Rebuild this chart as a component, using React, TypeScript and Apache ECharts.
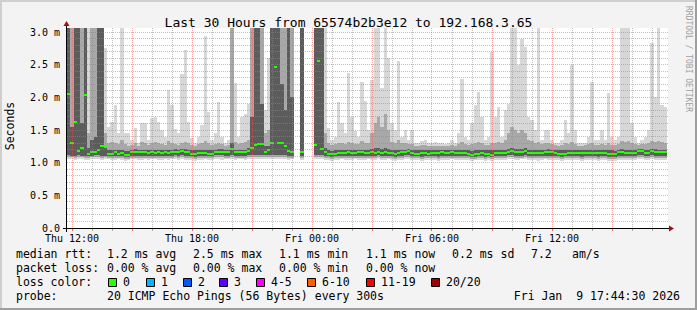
import React, { useEffect, useRef } from 'react';
import * as echarts from 'echarts';

const TITLE = 'Last 30 Hours from 65574b2b3e12 to 192.168.3.65';
const Y_AXIS_NAME = 'Seconds';
const WATERMARK = 'RRDTOOL / TOBI OETIKER';
const Y_TICK_LABELS = ['0.0', '0.5 m', '1.0 m', '1.5 m', '2.0 m', '2.5 m', '3.0 m'];
const X_TICK_LABELS = ['Thu 12:00', 'Thu 18:00', 'Fri 00:00', 'Fri 06:00', 'Fri 12:00'];

// 5-minute category slots, Thu 11:45 .. Fri 17:45
const CATEGORIES: string[] = [];
for (let i = 0; i <= 360; i++) {
  const t = 11 * 60 + 45 + 5 * i;
  const day = t >= 24 * 60 ? 'Fri' : 'Thu';
  const m = t % (24 * 60);
  CATEGORIES.push(`${day} ${String(Math.floor(m / 60)).padStart(2, '0')}:${String(m % 60).padStart(2, '0')}`);
}

// one value per 10-minute bin (180 bins), in ms; null = no data
const median = [
  2.05, 1.30, 1.63, 1.18, 1.23, 2.04, 1.14, 1.16, 1.17, 1.20,
  1.26, 1.24, 1.14, 1.14, 1.16, 1.14, 1.15, 1.12, 1.12, 1.16,
  1.17, 1.17, 1.16, 1.16, 1.15, 1.16, 1.15, 1.16, 1.15, 1.16,
  1.15, 1.16, 1.17, 1.16, 1.18, 1.17, 1.16, 1.14, 1.14, 1.15,
  1.15, 1.15, 1.14, 1.14, 1.17, 1.17, 1.17, 1.17, 1.16, 1.21,
  1.16, 1.16, 1.16, 1.16, 1.18, 1.23, 1.27, 1.28, 1.28, 1.17,
  1.19, 1.30, 2.46, 1.30, 1.30, 1.26, 1.18, 1.17, null, null,
  1.16, null, null, null, 1.27, 2.55, 1.21, 1.16, 1.14, 1.13,
  1.14, 1.15, 1.15, 1.15, 1.16, 1.15, 1.15, 1.16, 1.16, 1.15,
  1.15, 1.16, 1.15, 1.16, 1.15, 1.16, 1.15, 1.15, 1.14, 1.15,
  1.16, 1.17, 1.18, 1.15, 1.14, 1.14, 1.15, 1.15, 1.14, 1.15,
  1.15, 1.15, 1.16, 1.15, 1.15, 1.16, 1.15, 1.15, 1.15, 1.15,
  1.14, 1.11, 1.14, 1.14, 1.15, 1.14, 1.14, 1.12, 1.15, 1.15,
  1.15, 1.15, 1.16, 1.18, 1.16, 1.16, 1.16, 1.18, 1.15, 1.15,
  1.15, 1.15, 1.15, 1.16, 1.16, 1.16, 1.15, 1.14, 1.14, 1.14,
  1.15, 1.15, 1.15, 1.15, 1.15, 1.15, 1.15, 1.15, 1.15, 1.15,
  1.15, 1.15, 1.14, 1.13, 1.13, 1.16, 1.16, 1.15, 1.15, 1.15,
  1.15, 1.18, 1.18, 1.15, 1.15, 1.18, 1.17, 1.16, 1.16, 1.16,
];

const pingMax = [
  3.06, 3.06, 3.06, 3.06, 3.06, 3.06, 3.06, 3.06, 3.06, 3.06,
  3.06, 2.75, 1.55, 1.62, 1.88, 1.45, 3.06, 1.45, 1.45, 1.35,
  1.53, 1.30, 1.60, 1.60, 1.35, 1.68, 1.70, 1.63, 1.50, 1.39,
  2.11, 1.88, 1.51, 1.45, 2.35, 2.72, 1.62, 1.38, 1.30, 1.40,
  1.58, 2.94, 1.78, 1.35, 1.45, 1.93, 1.40, 1.30, 1.35, 3.06,
  2.22, 1.40, 1.70, 1.75, 1.90, 3.06, 3.06, 3.06, 3.06, 1.80,
  2.60, 3.06, 3.06, 3.06, 3.06, 3.06, 3.06, 3.06, null, null,
  3.06, null, null, null, 3.06, 3.06, 3.06, 3.06, 1.53, 1.35,
  1.40, 1.93, 1.60, 1.45, 2.37, 1.70, 1.48, 1.40, 2.23, 1.95,
  1.50, 2.27, 3.06, 3.06, 2.14, 3.06, 2.60, 1.60, 1.50, 2.56,
  1.40, 1.50, 1.35, 1.50, 1.30, 1.30, 1.33, 1.35, 1.30, 1.30,
  1.32, 1.30, 1.30, 1.28, 1.30, 1.35, 1.30, 1.45, 2.28, 1.40,
  1.35, 1.60, 1.88, 2.08, 1.70, 1.35, 1.40, 2.70, 1.70, 1.85,
  1.40, 1.80, 1.90, 3.06, 3.06, 2.50, 2.90, 2.77, 1.70, 1.65,
  1.50, 3.06, 1.35, 1.50, 1.50, 1.35, 1.30, 1.30, 1.35, 1.65,
  1.45, 2.50, 1.50, 1.30, 1.30, 1.30, 1.40, 2.23, 1.35, 1.35,
  1.50, 1.35, 2.06, 1.40, 1.35, 1.40, 3.06, 3.06, 3.06, 1.60,
  1.40, 1.30, 1.35, 1.40, 1.50, 2.83, 2.00, 3.06, 1.88, 1.85,
];

const pingMin = [
  1.05, 1.05, 1.04, 1.05, 1.05, 1.04, 1.04, 1.05, 1.05, 1.05,
  1.04, 1.05, 1.05, 1.04, 1.04, 1.05, 1.04, 1.03, 1.04, 1.05,
  1.05, 1.04, 1.04, 1.05, 1.04, 1.05, 1.05, 1.04, 1.04, 1.05,
  1.04, 1.05, 1.05, 1.04, 1.05, 1.04, 1.04, 1.04, 1.03, 1.04,
  1.04, 1.05, 1.04, 1.04, 1.05, 1.05, 1.04, 1.05, 1.05, 1.05,
  1.04, 1.05, 1.05, 1.04, 1.05, 1.06, 1.06, 1.06, 1.05, 1.05,
  1.05, 1.06, 1.06, 1.06, 1.05, 1.05, 1.04, 1.05, null, null,
  1.04, null, null, null, 1.05, 1.06, 1.05, 1.04, 1.04, 1.03,
  1.04, 1.04, 1.05, 1.04, 1.04, 1.04, 1.05, 1.04, 1.04, 1.04,
  1.05, 1.04, 1.04, 1.05, 1.04, 1.04, 1.05, 1.04, 1.03, 1.04,
  1.04, 1.05, 1.05, 1.04, 1.04, 1.04, 1.03, 1.04, 1.04, 1.04,
  1.04, 1.03, 1.04, 1.04, 1.04, 1.05, 1.04, 1.04, 1.04, 1.04,
  1.04, 1.02, 1.04, 1.04, 1.04, 1.03, 1.04, 1.03, 1.04, 1.04,
  1.04, 1.04, 1.05, 1.05, 1.04, 1.04, 1.05, 1.05, 1.04, 1.04,
  1.04, 1.03, 1.04, 1.05, 1.04, 1.04, 1.04, 1.04, 1.03, 1.04,
  1.04, 1.04, 1.04, 1.04, 1.03, 1.04, 1.04, 1.04, 1.04, 1.03,
  1.04, 1.04, 1.03, 1.03, 1.03, 1.04, 1.04, 1.04, 1.04, 1.04,
  1.04, 1.05, 1.05, 1.04, 1.04, 1.05, 1.04, 1.04, 1.04, 1.04,
];

const midHigh = [
  3.06, 3.06, 3.06, 3.06, 3.06, 3.06, 1.45, 3.06, 3.06, 3.06,
  3.06, 1.45, 1.30, 1.32, 1.30, 1.28, 1.35, 1.28, 1.26, 1.27,
  1.30, 1.26, 1.32, 1.30, 1.27, 1.30, 1.32, 1.30, 1.28, 1.27,
  1.33, 1.30, 1.28, 1.27, 1.30, 1.32, 1.30, 1.27, 1.26, 1.28,
  1.30, 1.33, 1.30, 1.27, 1.28, 1.30, 1.28, 1.26, 1.27, 3.06,
  1.32, 1.28, 1.30, 1.32, 1.35, 3.06, 3.06, 3.06, 3.06, 1.45,
  1.50, 3.06, 3.06, 3.06, 3.06, 3.06, 3.06, 3.06, null, null,
  3.06, null, null, null, 3.06, 3.06, 3.06, 1.45, 1.30, 1.27,
  1.28, 1.30, 1.30, 1.28, 1.32, 1.30, 1.28, 1.28, 1.33, 1.30,
  1.30, 1.45, 1.60, 1.70, 1.55, 1.75, 1.50, 1.32, 1.30, 1.35,
  1.30, 1.30, 1.28, 1.28, 1.26, 1.25, 1.27, 1.27, 1.25, 1.26,
  1.26, 1.25, 1.26, 1.25, 1.26, 1.27, 1.26, 1.28, 1.32, 1.28,
  1.27, 1.28, 1.30, 1.32, 1.30, 1.27, 1.27, 1.30, 1.30, 1.32,
  1.30, 1.35, 1.45, 1.55, 1.50, 1.45, 1.50, 1.45, 1.35, 1.33,
  1.30, 1.32, 1.28, 1.30, 1.30, 1.28, 1.27, 1.26, 1.27, 1.30,
  1.28, 1.32, 1.28, 1.26, 1.26, 1.27, 1.28, 1.30, 1.27, 1.27,
  1.28, 1.27, 1.30, 1.27, 1.27, 1.28, 1.33, 1.32, 1.33, 1.30,
  1.28, 1.27, 1.28, 1.28, 1.30, 1.33, 1.32, 1.33, 1.32, 1.30,
];

const midLow = [
  1.08, 1.08, 1.07, 1.08, 1.08, 1.07, 1.07, 1.08, 1.08, 1.08,
  1.07, 1.08, 1.07, 1.07, 1.07, 1.07, 1.07, 1.06, 1.06, 1.07,
  1.07, 1.07, 1.07, 1.07, 1.07, 1.07, 1.07, 1.07, 1.07, 1.07,
  1.07, 1.07, 1.08, 1.07, 1.08, 1.07, 1.07, 1.07, 1.06, 1.07,
  1.07, 1.07, 1.07, 1.07, 1.08, 1.08, 1.08, 1.07, 1.07, 1.08,
  1.07, 1.07, 1.07, 1.07, 1.08, 1.08, 1.09, 1.09, 1.08, 1.08,
  1.08, 1.09, 1.09, 1.09, 1.08, 1.08, 1.07, 1.07, null, null,
  1.07, null, null, null, 1.08, 1.09, 1.08, 1.07, 1.07, 1.06,
  1.07, 1.07, 1.07, 1.07, 1.07, 1.07, 1.07, 1.07, 1.07, 1.07,
  1.07, 1.07, 1.07, 1.08, 1.07, 1.07, 1.07, 1.07, 1.06, 1.07,
  1.07, 1.08, 1.08, 1.07, 1.07, 1.07, 1.06, 1.07, 1.07, 1.07,
  1.07, 1.06, 1.07, 1.07, 1.07, 1.07, 1.07, 1.07, 1.07, 1.07,
  1.07, 1.05, 1.06, 1.07, 1.07, 1.06, 1.07, 1.06, 1.07, 1.07,
  1.07, 1.07, 1.08, 1.08, 1.07, 1.07, 1.07, 1.08, 1.07, 1.07,
  1.07, 1.07, 1.07, 1.07, 1.07, 1.07, 1.07, 1.07, 1.06, 1.07,
  1.07, 1.07, 1.07, 1.07, 1.06, 1.07, 1.07, 1.07, 1.07, 1.06,
  1.07, 1.07, 1.06, 1.06, 1.06, 1.07, 1.07, 1.07, 1.07, 1.07,
  1.07, 1.08, 1.08, 1.07, 1.07, 1.08, 1.07, 1.07, 1.07, 1.07,
];

const darkHigh = [
  3.06, 1.55, 3.06, 3.06, 1.60, 3.06, 1.22, 1.35, 1.40, 3.06,
  3.06, 1.25, 1.20, 1.20, 1.20, 1.19, 1.20, 1.18, 1.18, 1.20,
  1.21, 1.20, 1.20, 1.20, 1.19, 1.20, 1.20, 1.20, 1.19, 1.20,
  1.20, 1.20, 1.21, 1.20, 1.21, 1.21, 1.20, 1.19, 1.19, 1.19,
  1.20, 1.20, 1.19, 1.19, 1.20, 1.21, 1.21, 1.20, 1.20, 1.30,
  1.20, 1.20, 1.20, 1.20, 1.22, 1.70, 3.06, 3.06, 1.90, 1.25,
  1.26, 3.06, 3.06, 3.06, 2.20, 1.80, 3.06, 2.00, null, null,
  3.06, null, null, null, 3.06, 3.06, 3.06, 1.22, 1.19, 1.18,
  1.19, 1.20, 1.20, 1.19, 1.20, 1.20, 1.19, 1.20, 1.20, 1.20,
  1.19, 1.21, 1.22, 1.22, 1.21, 1.22, 1.21, 1.20, 1.19, 1.20,
  1.20, 1.20, 1.21, 1.20, 1.19, 1.19, 1.19, 1.20, 1.19, 1.19,
  1.20, 1.19, 1.20, 1.19, 1.19, 1.20, 1.19, 1.20, 1.20, 1.20,
  1.19, 1.18, 1.19, 1.20, 1.20, 1.19, 1.19, 1.19, 1.20, 1.20,
  1.20, 1.20, 1.21, 1.22, 1.21, 1.21, 1.21, 1.22, 1.20, 1.20,
  1.20, 1.20, 1.20, 1.20, 1.21, 1.20, 1.20, 1.19, 1.19, 1.19,
  1.20, 1.20, 1.20, 1.20, 1.19, 1.20, 1.20, 1.20, 1.19, 1.20,
  1.20, 1.20, 1.19, 1.19, 1.18, 1.20, 1.21, 1.20, 1.20, 1.20,
  1.20, 1.21, 1.21, 1.20, 1.20, 1.21, 1.21, 1.20, 1.20, 1.20,
];

const darkLow = [
  1.11, 1.10, 1.10, 1.11, 1.10, 1.10, 1.10, 1.10, 1.11, 1.11,
  1.10, 1.10, 1.10, 1.10, 1.10, 1.10, 1.10, 1.09, 1.09, 1.10,
  1.10, 1.10, 1.10, 1.10, 1.10, 1.10, 1.10, 1.10, 1.10, 1.10,
  1.10, 1.10, 1.11, 1.10, 1.11, 1.10, 1.10, 1.10, 1.09, 1.10,
  1.10, 1.10, 1.10, 1.10, 1.11, 1.11, 1.11, 1.10, 1.10, 1.11,
  1.10, 1.10, 1.10, 1.10, 1.11, 1.11, 1.12, 1.12, 1.11, 1.11,
  1.11, 1.12, 1.12, 1.12, 1.11, 1.11, 1.10, 1.10, null, null,
  1.10, null, null, null, 1.11, 1.12, 1.11, 1.10, 1.10, 1.09,
  1.10, 1.10, 1.10, 1.10, 1.10, 1.10, 1.10, 1.10, 1.10, 1.10,
  1.10, 1.10, 1.10, 1.11, 1.10, 1.10, 1.10, 1.10, 1.09, 1.10,
  1.10, 1.11, 1.11, 1.10, 1.10, 1.10, 1.09, 1.10, 1.10, 1.10,
  1.10, 1.09, 1.10, 1.10, 1.10, 1.10, 1.10, 1.10, 1.10, 1.10,
  1.10, 1.08, 1.09, 1.10, 1.10, 1.09, 1.10, 1.09, 1.10, 1.10,
  1.10, 1.10, 1.11, 1.11, 1.10, 1.10, 1.10, 1.11, 1.10, 1.10,
  1.10, 1.10, 1.10, 1.10, 1.10, 1.10, 1.10, 1.10, 1.09, 1.10,
  1.10, 1.10, 1.10, 1.10, 1.09, 1.10, 1.10, 1.10, 1.10, 1.09,
  1.10, 1.10, 1.09, 1.09, 1.09, 1.10, 1.10, 1.10, 1.10, 1.10,
  1.10, 1.11, 1.11, 1.10, 1.10, 1.11, 1.10, 1.10, 1.10, 1.10,
];

const RTT_LABEL = 'median rtt:';
const RTT_STATS = ['1.2 ms avg', '2.5 ms max', '1.1 ms min', '1.1 ms now', '0.2 ms sd', '7.2', 'am/s'];
const LOSS_LABEL = 'packet loss:';
const LOSS_STATS = ['0.00 % avg', '0.00 % max', '0.00 % min', '0.00 % now'];
const COLOR_LABEL = 'loss color:';
const LOSS_LEVELS = ['0', '1', '2', '3', '4-5', '6-10', '11-19', '20/20'];
const LOSS_COLORS = ['#26ff00', '#00b8ff', '#0059ff', '#5e00ff', '#ff00f5', '#ff5e00', '#ff0000', '#a10000'];
const PROBE_LABEL = 'probe:';
const PROBE_TEXT = '20 ICMP Echo Pings (56 Bytes) every 300s';
const STAMP = 'Fri Jan\u00a0\u00a09 17:44:30 2026';

const MONO = '"DejaVu Sans Mono", monospace';
const LIGHT = '#d7d7d7';
const MID = '#a8a8a8';
const DARK = '#5c5c5c';
const GREEN = '#26ff00';
const MAJOR_GRID = 'rgba(255,80,80,0.5)';
const MINOR_GRID = 'rgba(140,140,140,0.55)';

const isHour = (i: number) => CATEGORIES[i].endsWith(':00');
const isMajor = (i: number) => isHour(i) && parseInt(CATEGORIES[i].slice(4, 6), 10) % 3 === 0;
const isLabel = (i: number) => X_TICK_LABELS.includes(CATEGORIES[i]);

export default function App() {
  const ref = useRef<HTMLDivElement>(null);
  useEffect(() => {
    if (!ref.current) return;
    const chart = echarts.init(ref.current, undefined, { renderer: 'svg' });

    const data: number[][] = [];
    for (let k = 0; k < median.length; k++) {
      if (median[k] == null) continue;
      data.push([2 * k, pingMin[k] as number, pingMax[k] as number, midLow[k] as number,
        midHigh[k] as number, darkLow[k] as number, darkHigh[k] as number, median[k] as number]);
    }

    // grid lines: [kind, position]; kind 0/1 = horizontal minor/major (y value), 2/3 = vertical minor/major (category index)
    const gridData: number[][] = [];
    for (let n = 1; n <= 30; n++) gridData.push([n % 5 === 0 ? 1 : 0, n / 10]);
    CATEGORIES.forEach((_, i) => { if (isHour(i)) gridData.push([isMajor(i) ? 3 : 2, i]); });

    const renderSmoke = (params: any, api: any) => {
      const i = api.value(0);
      const xa = Math.round(api.coord([i, 0])[0]);
      const xb = Math.round(api.coord([i + 2, 0])[0]);
      const yOf = (v: number) => Math.round(api.coord([i, v])[1]);
      const children: any[] = [];
      const band = (lo: number, hi: number, color: string) => {
        const y1 = yOf(hi);
        const y0 = yOf(lo);
        children.push({ type: 'rect', shape: { x: xa, y: y1, width: xb - xa, height: y0 - y1 }, style: { fill: color } });
      };
      band(api.value(1), api.value(2), LIGHT);
      band(api.value(3), api.value(4), MID);
      band(api.value(5), api.value(6), DARK);
      const ym = Math.round(api.coord([i, api.value(7)])[1]);
      children.push({ type: 'rect', shape: { x: xa, y: ym - 1, width: xb - xa, height: 2 }, style: { fill: GREEN } });
      return { type: 'group', children };
    };

    const renderGrid = (params: any, api: any) => {
      const kind = api.value(0);
      const pos = api.value(1);
      const cs = params.coordSys;
      const color = kind % 2 === 1 ? MAJOR_GRID : MINOR_GRID;
      if (kind < 2) {
        const y = Math.floor(api.coord([0, pos])[1]) + 0.5;
        return { type: 'line', shape: { x1: cs.x, y1: y, x2: cs.x + cs.width + 1, y2: y },
          style: { stroke: color, lineWidth: 1, lineDash: [1, 1] } };
      }
      const x = Math.floor(api.coord([pos, 0])[0]) + 0.5;
      const bottom = cs.y + cs.height;
      return {
        type: 'group',
        children: [
          { type: 'line', shape: { x1: x, y1: cs.y - 4, x2: x, y2: bottom },
            style: { stroke: color, lineWidth: 1, lineDash: [1, 1] } },
          { type: 'line', shape: { x1: x, y1: bottom, x2: x, y2: bottom + 3 },
            style: { stroke: kind === 3 ? '#ff6060' : '#a8a8a8', lineWidth: 1 } },
        ],
      };
    };

    const txt = (text: string, x: number, y: number, align = 'left') => ({
      type: 'text', x, y, z: 20,
      style: { text, fontFamily: MONO, fontSize: 11.5, fill: '#000', align, verticalAlign: 'middle' },
    });

    const legendX = [107, 193, 279, 366, 452, 531, 572];
    const boxX = [108, 146, 183, 219, 256, 307, 366, 431];
    const rows = [254, 268, 282, 296];

    const graphic: any[] = [
      { type: 'rect', z: 0, shape: { x: 0, y: 0, width: 697, height: 2 }, style: { fill: '#cfcfcf' } },
      { type: 'rect', z: 0, shape: { x: 0, y: 0, width: 2, height: 310 }, style: { fill: '#cfcfcf' } },
      { type: 'rect', z: 0, shape: { x: 0, y: 308, width: 697, height: 2 }, style: { fill: '#9e9e9e' } },
      { type: 'rect', z: 0, shape: { x: 695, y: 0, width: 2, height: 310 }, style: { fill: '#9e9e9e' } },
      { type: 'rect', z: 0, shape: { x: 67, y: 28, width: 601, height: 200 }, style: { fill: '#ffffff' } },
      { type: 'line', z: 15, shape: { x1: 63, y1: 228.5, x2: 669, y2: 228.5 }, style: { stroke: '#000', lineWidth: 1 } },
      { type: 'line', z: 15, shape: { x1: 66.5, y1: 26, x2: 66.5, y2: 232 }, style: { stroke: '#000', lineWidth: 1 } },
      { type: 'polygon', z: 16, shape: { points: [[63.5, 26], [69.5, 26], [66.5, 21]] }, style: { fill: '#a01010' } },
      { type: 'polygon', z: 16, shape: { points: [[669, 225.5], [669, 231.5], [674, 228.5]] }, style: { fill: '#a01010' } },
      { type: 'text', z: 20, x: 10, y: 126, rotation: Math.PI / 2,
        style: { text: Y_AXIS_NAME, fontFamily: MONO, fontSize: 11.5, fill: '#000', align: 'center', verticalAlign: 'middle' } },
      { type: 'text', z: 20, x: 688, y: 59, rotation: -Math.PI / 2,
        style: { text: WATERMARK, fontFamily: MONO, fontSize: 8, fill: '#a0a0a0', align: 'center', verticalAlign: 'middle' } },
      txt(RTT_LABEL, 16, rows[0]),
      ...RTT_STATS.map((s, j) => txt(s, legendX[j], rows[0])),
      txt(LOSS_LABEL, 16, rows[1]),
      ...LOSS_STATS.map((s, j) => txt(s, legendX[j], rows[1])),
      txt(COLOR_LABEL, 16, rows[2]),
      ...LOSS_LEVELS.map((s, j) => txt(s, boxX[j] + 15, rows[2])),
      ...LOSS_COLORS.map((c, j) => ({
        type: 'rect', z: 20, shape: { x: boxX[j] + 0.5, y: 278.5, width: 8, height: 8 },
        style: { fill: c, stroke: '#000', lineWidth: 1 },
      })),
      txt(PROBE_LABEL, 16, rows[3]),
      txt(PROBE_TEXT, 107, rows[3]),
      txt(STAMP, 680, rows[3], 'right'),
    ];

    chart.setOption({
      animation: false,
      backgroundColor: '#f3f3f3',
      title: {
        text: TITLE, left: 'center', top: 11,
        textStyle: { fontFamily: MONO, fontSize: 13, fontWeight: 'normal', color: '#000' },
      },
      grid: { left: 67, top: 32, width: 600, height: 196, containLabel: false },
      xAxis: {
        type: 'category', data: CATEGORIES, boundaryGap: false, position: 'bottom', z: 5,
        axisLine: { show: false },
        axisTick: { show: false },
        axisLabel: {
          interval: (i: number) => isLabel(i), margin: 5, lineHeight: 10,
          fontFamily: MONO, fontSize: 10, color: '#000',
        },
        splitLine: { show: false },
      },
      yAxis: {
        type: 'value', min: 0, max: 3, interval: 0.5, z: 5,
        axisLine: { show: false }, axisTick: { show: false },
        axisLabel: {
          margin: 7, fontFamily: MONO, fontSize: 10, lineHeight: 10, color: '#000',
          formatter: (v: number) => Y_TICK_LABELS[Math.round(v / 0.5)] ?? '',
        },
        splitLine: { show: false },
      },
      series: [
        { type: 'custom', z: 2, silent: true, renderItem: renderSmoke, data, encode: { x: 0, y: 1 } },
        { type: 'custom', z: 3, silent: true, renderItem: renderGrid, data: gridData, encode: { x: 0, y: 1 } },
      ],
      graphic,
    });
    return () => chart.dispose();
  }, []);
  return <div ref={ref} style={{ position: 'absolute', left: 0, top: 0, width: 697, height: 310 }} />;
}
